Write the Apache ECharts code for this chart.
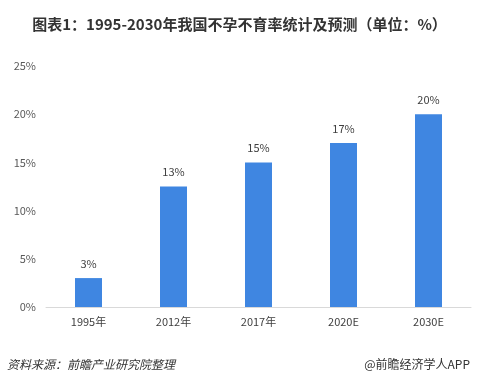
<!DOCTYPE html>
<html><head><meta charset="utf-8">
<script src="https://cdn.jsdelivr.net/npm/echarts@6/dist/echarts.min.js"></script>
<style>html,body{margin:0;padding:0;background:#fff}#c{width:479px;height:386px}</style>
</head><body><div id="c"></div>
<script>
var categories = ['1995年', '2012年', '2017年', '2020E', '2030E'];
var values = [3, 12.5, 15, 17, 20];
var labels = ['3%', '13%', '15%', '17%', '20%'];
var chart = echarts.init(document.getElementById('c'));
var font = '"Microsoft YaHei","Noto Sans CJK SC",sans-serif';
chart.setOption({
  animation: false,
  backgroundColor: '#fff',
  title: [{
    text: '图表1：1995-2030年我国不孕不育率统计及预测（单位：%）',
    left: 'center', top: 12,
    textStyle: {fontSize: 15, fontWeight: 'bold', color: '#333', fontFamily: font}
  }],
  graphic: [
    {type: 'text', left: 7, top: 358, style: {text: '资料来源：前瞻产业研究院整理', fontSize: 12, fontStyle: 'italic', fill: '#333', fontFamily: font}},
    {type: 'text', right: 9, top: 358, style: {text: '@前瞻经济学人APP', fontSize: 12, fill: '#333', fontFamily: font}}
  ],
  grid: {left: 46, right: 8, top: 66, bottom: 79},
  xAxis: {
    type: 'category', data: categories,
    axisLine: {lineStyle: {color: '#d9d9d9'}},
    axisTick: {show: false},
    axisLabel: {color: '#404040', fontSize: 11, margin: 9, fontFamily: font}
  },
  yAxis: {
    type: 'value', min: 0, max: 25, interval: 5,
    axisLine: {show: false}, axisTick: {show: false},
    splitLine: {show: false},
    axisLabel: {color: '#595959', fontSize: 11, margin: 10, formatter: '{value}%', fontFamily: font}
  },
  series: [{
    type: 'bar', data: values, barWidth: 27,
    itemStyle: {color: '#3F86E1'},
    label: {show: true, position: 'top', distance: 9, color: '#404040', fontSize: 11, fontFamily: font,
      formatter: function (p) { return labels[p.dataIndex]; }}
  }]
});
</script></body></html>
